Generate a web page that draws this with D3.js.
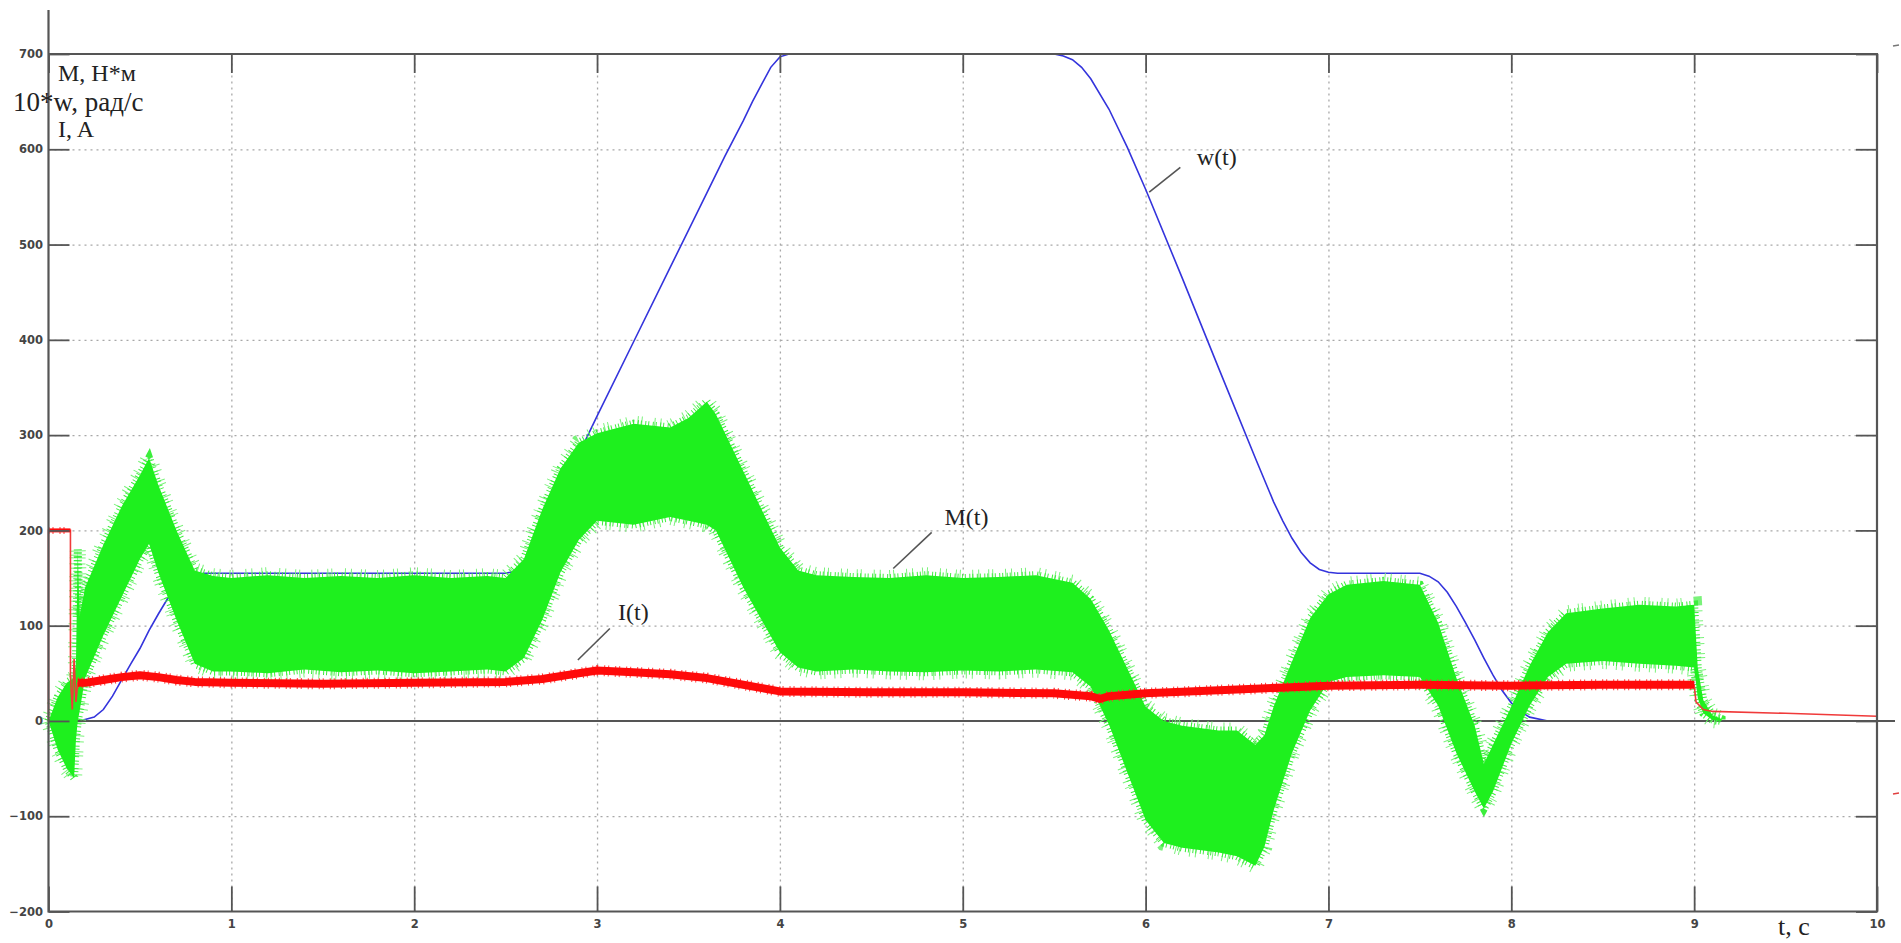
<!DOCTYPE html>
<html>
<head>
<meta charset="utf-8">
<script src="https://cdn.jsdelivr.net/npm/d3@7"></script>
<style>
  html, body { margin: 0; padding: 0; background: #fff; }
  svg { display: block; }
  .tick text { font-family: "DejaVu Sans", sans-serif; font-weight: bold; font-size: 11.5px; fill: #444; }
  .serif { font-family: "Liberation Serif", "Times New Roman", serif; fill: #222; }
</style>
</head>
<body>
<svg id="chart" width="1901" height="943"></svg>
<script>
// ticks
const tTicks = [0, 1, 2, 3, 4, 5, 6, 7, 8, 9, 10];
const vTicks = [-200, -100, 0, 100, 200, 300, 400, 500, 600, 700];

// w(t), scaled by 10 (blue)
const wT = [0, 0.17, 0.25, 0.3, 0.35, 0.4, 0.45, 0.5, 0.55, 0.6, 0.65, 0.7, 0.75, 0.8, 0.85,
  2.5, 2.55, 2.6, 2.65, 2.7, 2.75, 2.8, 2.9, 3.0, 3.2, 3.4, 3.6, 3.7, 3.8, 3.85, 3.9, 3.95, 4.0, 4.05,
  5.5, 5.55, 5.6, 5.65, 5.7, 5.8, 5.9, 6.0, 6.2, 6.4, 6.6, 6.7, 6.75, 6.8, 6.85, 6.9, 6.95, 7.0, 7.05,
  7.5, 7.55, 7.6, 7.65, 7.7, 7.75, 7.8, 7.85, 7.9, 7.95, 8.0, 8.05, 8.1, 8.2, 10];
const wV = [0, 0, 4, 12, 26, 43, 60, 76, 95, 112, 128, 140, 148, 153, 155,
  155, 157, 162, 175, 193, 214, 238, 280, 320, 398, 476, 554, 593, 630, 650, 668, 686, 697, 700,
  700, 698, 694, 686, 674, 642, 602, 558, 465, 370, 276, 230, 210, 192, 177, 166, 159, 156, 155,
  155, 152, 146, 135, 120, 103, 85, 66, 48, 32, 19, 10, 4, 0, 0];

// M(t) noisy torque, upper and lower edge of the band (green)
const mT = [0, 0.05, 0.1, 0.14, 0.15, 0.16, 0.17, 0.2, 0.3, 0.4, 0.5, 0.55, 0.6, 0.7, 0.8, 0.9,
  1.0, 1.2, 1.4, 1.6, 1.8, 2.0, 2.2, 2.4, 2.5, 2.6, 2.7, 2.8, 2.9, 3.0, 3.2, 3.4, 3.5, 3.6, 3.65,
  3.7, 3.8, 3.9, 4.0, 4.1, 4.2, 4.4, 4.6, 4.8, 5.0, 5.2, 5.4, 5.6, 5.7, 5.8, 5.9, 6.0, 6.1, 6.2,
  6.4, 6.5, 6.6, 6.65, 6.7, 6.8, 6.9, 7.0, 7.1, 7.3, 7.5, 7.6, 7.7, 7.8, 7.85, 7.9, 8.0, 8.1,
  8.2, 8.3, 8.5, 8.7, 8.9, 9.0, 9.02, 9.05, 9.1, 9.15];
const mHi = [0, 25, 40, 45, 60, 180, 110, 140, 185, 225, 258, 276, 248, 200, 158, 152,
  150, 153, 150, 152, 150, 153, 150, 152, 150, 170, 222, 265, 292, 302, 312, 308, 318, 335, 322,
  302, 262, 222, 182, 158, 153, 151, 150, 153, 150, 151, 153, 145, 128, 95, 55, 15, 0, -5,
  -10, -10, -25, -15, 15, 62, 108, 133, 143, 147, 143, 103, 45, -5, -45, -25, 15, 58,
  93, 113, 118, 122, 120, 122, 55, 22, 6, 2];
const mLo = [0, -30, -50, -60, -20, 0, 10, 45, 90, 130, 170, 186, 156, 106, 60, 52,
  52, 50, 54, 51, 53, 50, 52, 54, 52, 66, 106, 156, 190, 210, 206, 214, 210, 206, 200,
  180, 140, 106, 72, 56, 52, 54, 52, 51, 53, 52, 54, 51, 36, -4, -54, -104, -128, -133,
  -138, -142, -152, -132, -94, -34, 11, 41, 46, 48, 46, 16, -34, -74, -92, -74, -24, 16,
  46, 60, 63, 60, 58, 56, 24, 8, 1, 0];

// I(t) current (red)
const iT = [0, 0, 0.05, 0.12, 0.12, 0.13, 0.14, 0.15, 0.16, 0.2, 0.3, 0.4, 0.5, 0.6, 0.7, 0.8,
  1.0, 1.5, 2.0, 2.5, 2.7, 2.9, 3.0, 3.2, 3.4, 3.6, 3.8, 4.0, 4.5, 5.0, 5.5, 5.7, 5.75, 5.8,
  6.0, 6.5, 7.0, 7.5, 8.0, 8.5, 9.0, 9.01, 9.05, 9.1, 9.5, 10];
const iV = [0, 200, 200, 200, 47, 12, 65, 20, 40, 40, 43, 46, 48, 46, 43, 41,
  40, 39, 40, 41, 44, 50, 53, 51, 49, 45, 38, 31, 30, 30, 29, 26, 23, 26,
  29, 33, 37, 38, 37, 38, 38, 20, 12, 10, 8, 5];
const iNoisy = [[0.0, 0.12], [0.16, 9.0]];

const labels = [
  {text: "w(t)", t: 6.28, v: 583, from: [6.19, 581], to: [6.02, 555]},
  {text: "M(t)", t: 4.90, v: 206, from: [4.83, 198], to: [4.62, 160]},
  {text: "I(t)", t: 3.115, v: 106, from: [3.07, 97], to: [2.895, 64]}
];

const svg = d3.select("#chart");
const x = d3.scaleLinear().domain([0, 10]).range([48.5, 1877]);
const y = d3.scaleLinear().domain([-200, 700]).range([911.5, 54]);
const plotLeft = x(0), plotRight = x(10), plotTop = y(700), plotBottom = y(-200);

// grid
svg.append("g")
  .attr("transform", `translate(0,${plotBottom})`)
  .call(d3.axisBottom(x).tickValues(tTicks.slice(1, -1)).tickSize(-(plotBottom - plotTop)).tickFormat(""))
  .call(g => g.select(".domain").remove())
  .selectAll("line").attr("stroke", "#a8a8a8").attr("stroke-width", 1.3).attr("stroke-dasharray", "2,4");
svg.append("g")
  .attr("transform", `translate(${plotLeft},0)`)
  .call(d3.axisLeft(y).tickValues(vTicks.filter(v => v > -200 && v < 700 && v !== 0)).tickSize(-(plotRight - plotLeft)).tickFormat(""))
  .call(g => g.select(".domain").remove())
  .selectAll("line").attr("stroke", "#a8a8a8").attr("stroke-width", 1.3).attr("stroke-dasharray", "2,4");

// w(t)
svg.append("path")
  .datum(wT.map((t, i) => [t, wV[i]]))
  .attr("fill", "none").attr("stroke", "#3434dc").attr("stroke-width", 1.6)
  .attr("d", d3.line().x(d => x(d[0])).y(d => y(d[1])));

// zero line
svg.append("line")
  .attr("x1", plotLeft).attr("x2", plotRight + 18).attr("y1", y(0)).attr("y2", y(0))
  .attr("stroke", "#555").attr("stroke-width", 2);

// M(t) band, with a thin irregular fringe for the noise
const mData = mT.map((t, i) => [t, mLo[i], mHi[i]]);
const mArea = d3.area().x(d => x(d[0])).y0(d => y(d[1])).y1(d => y(d[2]));
svg.append("path").datum(mData).attr("d", mArea)
  .attr("fill", "none").attr("stroke", "#7af27a").attr("stroke-width", 16)
  .attr("stroke-dasharray", "1,5,1,9,1,3,1,12").attr("stroke-linejoin", "miter");
svg.append("path").datum(mData).attr("d", mArea)
  .attr("fill", "none").attr("stroke", "#3cee3c").attr("stroke-width", 8)
  .attr("stroke-dasharray", "1,2,1,3.5").attr("stroke-linejoin", "miter");
svg.append("path").datum(mData).attr("d", mArea)
  .attr("fill", "#1ef01e");

// I(t)
const iData = iT.map((t, i) => [t, iV[i]]);
const iLine = d3.line().x(d => x(d[0])).y(d => y(d[1]));
svg.append("path")
  .datum(iData)
  .attr("fill", "none").attr("stroke", "#f03a3a").attr("stroke-width", 1.6)
  .attr("d", iLine);
iNoisy.forEach(([a, b]) => {
  const seg = iData.filter(d => d[0] >= a && d[0] <= b && !(a === 0 && d[1] < 100));
  svg.append("path").datum(seg)
    .attr("fill", "none").attr("stroke", "#ff3a3a").attr("stroke-width", a === 0 ? 7 : 11)
    .attr("stroke-dasharray", "1,3,1,6").attr("stroke-linejoin", "round")
    .attr("d", iLine);
  svg.append("path").datum(seg)
    .attr("fill", "none").attr("stroke", "#ff0a0a").attr("stroke-width", a === 0 ? 4 : 8)
    .attr("stroke-linejoin", "round")
    .attr("d", iLine);
});

// frame and ticks
const axisColor = "#555";
svg.append("g").attr("transform", `translate(${plotLeft},0)`)
  .call(d3.axisLeft(y).tickValues(vTicks).tickSize(-21).tickPadding(5.5))
  .call(g => g.select(".domain").remove())
  .selectAll("line").attr("stroke", axisColor).attr("stroke-width", 1.8);
svg.append("g").attr("transform", `translate(${plotRight},0)`)
  .call(d3.axisRight(y).tickValues(vTicks).tickSize(-21).tickFormat(""))
  .call(g => g.select(".domain").remove())
  .selectAll("line").attr("stroke", axisColor).attr("stroke-width", 1.8);
svg.append("g").attr("transform", `translate(0,${plotBottom})`)
  .call(d3.axisBottom(x).tickValues(tTicks).tickSize(-25).tickPadding(8))
  .call(g => g.select(".domain").remove())
  .selectAll("line").attr("stroke", axisColor).attr("stroke-width", 1.8);
svg.append("g").attr("transform", `translate(0,${plotTop})`)
  .call(d3.axisTop(x).tickValues(tTicks).tickSize(-19).tickFormat(""))
  .call(g => g.select(".domain").remove())
  .selectAll("line").attr("stroke", axisColor).attr("stroke-width", 1.8);

svg.append("path")
  .attr("d", `M${plotLeft},10 V${plotBottom} H${plotRight} V${plotTop} H${plotLeft}`)
  .attr("fill", "none").attr("stroke", axisColor).attr("stroke-width", 2.2);

// stray marks at the right edge
svg.append("line").attr("x1", 1893).attr("x2", 1899).attr("y1", 46).attr("y2", 45)
  .attr("stroke", "#777").attr("stroke-width", 1.5);
svg.append("line").attr("x1", 1893).attr("x2", 1899).attr("y1", 794).attr("y2", 793)
  .attr("stroke", "#e04040").attr("stroke-width", 1.5);

// labels
svg.append("text").attr("class", "serif").attr("x", 58).attr("y", 81).attr("font-size", 24).text("M, Н*м");
svg.append("text").attr("class", "serif").attr("x", 13).attr("y", 111).attr("font-size", 27).text("10*w, рад/с");
svg.append("text").attr("class", "serif").attr("x", 58).attr("y", 137).attr("font-size", 24).text("I, A");
svg.append("text").attr("class", "serif").attr("x", 1778).attr("y", 935).attr("font-size", 26).text("t, c");

labels.forEach(l => {
  svg.append("line")
    .attr("x1", x(l.from[0])).attr("y1", y(l.from[1]))
    .attr("x2", x(l.to[0])).attr("y2", y(l.to[1]))
    .attr("stroke", "#555").attr("stroke-width", 1.6);
  svg.append("text").attr("class", "serif")
    .attr("x", x(l.t)).attr("y", y(l.v)).attr("font-size", 24).text(l.text);
});
</script>
</body>
</html>
